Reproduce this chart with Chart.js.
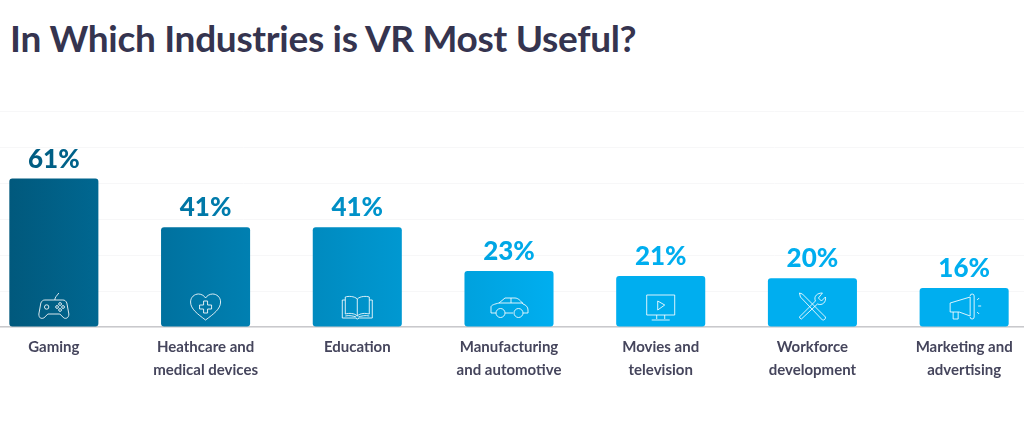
<!DOCTYPE html>
<html>
<head>
<meta charset="utf-8">
<title>In Which Industries is VR Most Useful?</title>
<script src="https://cdn.jsdelivr.net/npm/chart.js@4"></script>
<style>
html, body { margin: 0; padding: 0; width: 1024px; height: 433px; overflow: hidden; background: #fff; }
h1 { position: absolute; left: 10px; top: 15px; margin: 0; font: 700 37px Lato, sans-serif; letter-spacing: -0.3px; color: #35344f; white-space: nowrap; }
#chart { position: absolute; left: -22px; top: 0; }
</style>
</head>
<body>
<h1>In Which Industries is VR Most Useful?</h1>
<canvas id="chart" width="1062" height="433"></canvas>
<script>
var categories = [
    ["Gaming"],
    ["Heathcare and", "medical devices"],
    ["Education"],
    ["Manufacturing", "and automotive"],
    ["Movies and", "television"],
    ["Workforce", "development"],
    ["Marketing and", "advertising"]
];
var shares = [61, 41, 41, 23, 21, 20, 16];
var gridValues = [0, 14.8, 29.6, 44.4, 59.2, 74, 88.8];
var iconNames = ["gamepad", "heart", "book", "car", "monitor", "tools", "megaphone"];

// left to right colour ramp shared by the bars and their labels
var rampStops = [[0.02, "#01577a"], [0.16, "#006f9c"], [0.36, "#0092c9"], [0.54, "#00aeef"], [1, "#00aeef"]];

// icons are outlined around (0, 0), the plugin moves them onto each bar
var icons = {
    gamepad: "M-9,-7 H9 C11,-7 12,-6 13,-4 L15,7 C15,11 12,12 10,11 L6,7 H-6 L-10,11 C-13,12 -15,11 -15,7 L-13,-4 C-12,-6 -11,-7 -9,-7 Z" +
        " M1,-7 C1,-10 3,-11 5,-14 M-5,0 A2.2,2.2 0 1 1 -9.4,0 A2.2,2.2 0 1 1 -5,0 Z" +
        " M7.6,-3 A1.4,1.4 0 1 1 4.8,-3 A1.4,1.4 0 1 1 7.6,-3 Z M7.6,3 A1.4,1.4 0 1 1 4.8,3 A1.4,1.4 0 1 1 7.6,3 Z" +
        " M4.6,0 A1.4,1.4 0 1 1 1.8,0 A1.4,1.4 0 1 1 4.6,0 Z M10.6,0 A1.4,1.4 0 1 1 7.8,0 A1.4,1.4 0 1 1 10.6,0 Z",
    heart: "M0,13 C-8,7 -15,2 -15,-5 C-15,-10 -11,-13 -7,-13 C-4,-13 -1,-11 0,-9 C1,-11 4,-13 7,-13 C11,-13 15,-10 15,-5 C15,2 8,7 0,13 Z" +
        " M-2,-6 H2 V-2 H6 V2 H2 V6 H-2 V2 H-6 V-2 H-2 Z",
    book: "M0,-8 C-3,-11 -9,-11 -12,-10 V7 C-8,6 -3,6 0,9 C3,6 8,6 12,7 V-10 C9,-11 3,-11 0,-8 Z M0,-8 V9" +
        " M-12,-7 H-15 V11 H-2 L0,12 L2,11 H15 V-7 H12 M-12,9 C-8,8 -4,9 -1,10 M12,9 C8,8 4,9 1,10",
    car: "M-18,4 V0 C-18,-2 -14,-3 -10,-4 L-4,-9 H6 C9,-9 12,-6 14,-3 C17,-2 19,0 19,3 V6 H14 M4,6 H-4 M-13,6 H-18 V4" +
        " M-10,-4 H14 M2,-9 V-4 M-4,6 A4.5,4.5 0 1 1 -13,6 A4.5,4.5 0 1 1 -4,6 Z M14,6 A4.5,4.5 0 1 1 5,6 A4.5,4.5 0 1 1 14,6 Z",
    monitor: "M-14,-12 H14 V8 H-14 Z M-4,8 V12 M4,8 V12 M-9,13 H9 M-3,-6 L4,-2 L-3,3 Z",
    tools: "M-13,-14 L-10,-13 L13,10 A2.5,2.5 0 0 1 10,13 L-12,-10 Z M5,-3 L-11,12 A2.5,2.5 0 0 1 -13,10 L3,-6" +
        " M3,-6 C1,-11 5,-14 10,-14 L6,-9 L9,-6 L13,-10 C14,-5 10,-1 5,-3",
    megaphone: "M-14,-4 L6,-10 V9 L-5,5 H-14 Z M-11,5 V12 H-6 V5 M6,-11 A2,2 0 0 1 10,-11 V10 A2,2 0 0 1 6,10 M13,-7 L15,-9 M14,-1 H17 M13,5 L15,7"
};

function rampFor(chart) {
    var g = chart.ctx.createLinearGradient(0, 0, chart.width, 0);
    rampStops.forEach(function (s) { g.addColorStop(s[0], s[1]); });
    return g;
}

var barExtras = {
    id: "barExtras",
    afterDatasetsDraw: function (chart) {
        var ctx = chart.ctx;
        var bars = chart.getDatasetMeta(0).data;
        var base = chart.scales.y.getPixelForValue(0);
        ctx.save();
        bars.forEach(function (bar, i) {
            ctx.fillStyle = rampFor(chart);
            ctx.font = "900 26px Lato, sans-serif";
            ctx.textAlign = "center";
            ctx.textBaseline = "alphabetic";
            ctx.fillText(shares[i] + "%", bar.x, bar.y - 11);

            ctx.save();
            ctx.translate(bar.x, base - 20);
            ctx.strokeStyle = "rgba(255,255,255,0.85)";
            ctx.lineWidth = 1;
            ctx.stroke(new Path2D(icons[iconNames[i]]));
            ctx.restore();
        });
        ctx.restore();
    }
};

new Chart(document.getElementById("chart"), {
    type: "bar",
    data: {
        labels: categories,
        datasets: [{
            data: shares,
            backgroundColor: function (c) { return c.chart.chartArea ? rampFor(c.chart) : "#00aeef"; },
            barPercentage: 0.587,
            categoryPercentage: 1,
            borderRadius: 3,
            borderSkipped: false
        }]
    },
    plugins: [barExtras],
    options: {
        responsive: false,
        animation: false,
        devicePixelRatio: 1,
        layout: { padding: { top: 111 } },
        plugins: { legend: { display: false }, title: { display: false }, tooltip: { enabled: false } },
        scales: {
            x: {
                afterFit: function (s) { s.height = 106; },
                grid: { display: false },
                border: { color: "#c9c9cc", width: 1.5 },
                ticks: {
                    autoSkip: false, maxRotation: 0, padding: 1, color: "#45455c",
                    font: { family: "Lato, sans-serif", size: 15, weight: "700", lineHeight: 1.53 }
                }
            },
            y: {
                min: 0,
                max: 88.8,
                afterFit: function (s) { s.width = 0; },
                afterBuildTicks: function (s) { s.ticks = gridValues.map(function (v) { return { value: v }; }); },
                border: { display: false },
                grid: { color: "#f7f7f8", lineWidth: 1, drawTicks: false },
                ticks: { display: false }
            }
        }
    }
});
</script>
</body>
</html>
